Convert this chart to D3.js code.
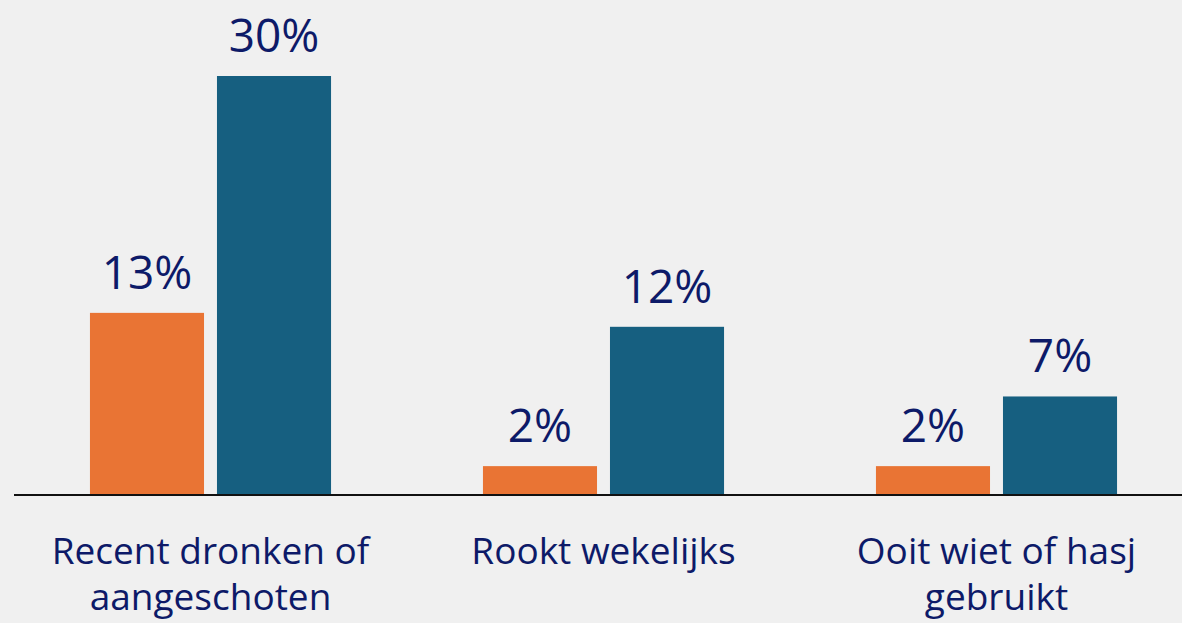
<!DOCTYPE html>
<html>
<head>
<meta charset="utf-8">
<script src="https://cdn.jsdelivr.net/npm/d3@7"></script>
<style>
  html, body { margin: 0; padding: 0; background: #f0f0f0; }
  svg { display: block; }
  text { font-family: "Open Sans", sans-serif; fill: #0d1a68; }
</style>
</head>
<body>
<div id="chart"></div>
<script>
const categories = [['Recent dronken of', 'aangeschoten'], ['Rookt wekelijks'], ['Ooit wiet of hasj', 'gebruikt']]
const seriesKeys = ['a', 'b']
const seriesA = [13, 2, 2]
const seriesB = [30, 12, 7]
const colors = { a: '#e97434', b: '#165f80' }

const width = 1182
const height = 623
const baseY = 494

const svg = d3.select('#chart').append('svg')
  .attr('width', width)
  .attr('height', height)

const x = d3.scaleBand()
  .domain(d3.range(categories.length))
  .range([14, 1193])
  .paddingInner(0)
  .paddingOuter(0)

const xInner = d3.scaleBand()
  .domain(seriesKeys)
  .range([0, x.bandwidth()])
  .paddingInner(0.102)
  .paddingOuter(0.598)

const y = d3.scaleLinear()
  .domain([0, 30])
  .range([baseY, 76])

const rows = categories.map((c, i) => ({ i, a: seriesA[i], b: seriesB[i] }))

const groups = svg.selectAll('.grp')
  .data(rows)
  .join('g')
  .attr('class', 'grp')
  .attr('transform', d => `translate(${x(d.i)},0)`)

groups.selectAll('rect')
  .data(d => seriesKeys.map(k => ({ k, v: d[k] })))
  .join('rect')
  .attr('x', d => xInner(d.k))
  .attr('width', xInner.bandwidth())
  .attr('y', d => y(d.v))
  .attr('height', d => baseY - y(d.v))
  .attr('fill', d => colors[d.k])

groups.selectAll('.val')
  .data(d => seriesKeys.map(k => ({ k, v: d[k] })))
  .join('text')
  .attr('class', 'val')
  .attr('x', d => xInner(d.k) + xInner.bandwidth() / 2)
  .attr('y', d => y(d.v) - 24)
  .attr('text-anchor', 'middle')
  .style('font-size', '46px')
  .text(d => `${d.v}%`)

// baseline
svg.append('line')
  .attr('x1', 14).attr('x2', width)
  .attr('y1', baseY + 1).attr('y2', baseY + 1)
  .attr('stroke', '#111')
  .attr('stroke-width', 2)

// category labels
const lab = svg.selectAll('.cat')
  .data(categories)
  .join('text')
  .attr('class', 'cat')
  .attr('text-anchor', 'middle')
  .attr('transform', (d, i) => `translate(${x(i) + x.bandwidth() / 2},564)`)
  .style('font-size', '37px')

lab.selectAll('tspan')
  .data(d => d)
  .join('tspan')
  .attr('x', 0)
  .attr('dy', (d, i) => i === 0 ? 0 : 46)
  .text(d => d)
</script>
</body>
</html>
